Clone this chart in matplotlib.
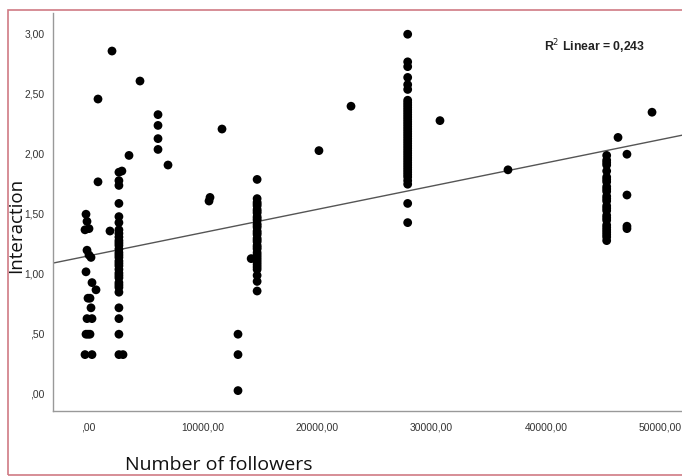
import numpy as np
import matplotlib.pyplot as plt
from matplotlib.ticker import FuncFormatter
from matplotlib.patches import Rectangle

# data -------------------------------------

# small accounts (near 0 followers)
followers_a = [-175, -87, 87, -262, -87, 87, 262, -175, 349, 699, 175, 0, 262,
               -87, 349, -175, 175, 0, -262, 349, 873, 873]
interaction_a = [1.49, 1.43, 1.37, 1.36, 1.19, 1.15, 1.13, 1.01, 0.92, 0.86, 0.79, 0.79, 0.71,
                 0.62, 0.62, 0.49, 0.49, 0.49, 0.32, 0.32, 2.45, 1.76]

# column around 2700 followers
followers_b = [2960, 2700, 2700, 2700, 2700, 2700, 2700, 2700, 2700, 2700, 2700, 2700,
               2700, 2700, 2700, 2700, 2700, 2700, 2700, 2700, 2700, 2700, 2700, 2700,
               2700, 2700, 2700, 3057, 1920, 2700, 2700, 2700, 2700, 2700]
interaction_b = [1.85, 1.84, 1.77, 1.73, 1.58, 1.47, 1.42, 1.36, 1.33, 1.30, 1.27, 1.23,
                 1.20, 1.17, 1.13, 1.10, 1.06, 1.03, 1.00, 0.96, 0.92, 0.88, 0.84, 0.71,
                 0.62, 0.49, 0.32, 0.32, 1.35, 1.25, 1.15, 1.08, 0.98, 0.90]

# scattered accounts
followers_c = [2096, 4541, 6114, 6114, 6114, 6114, 11703, 3581, 6987, 10570, 10655,
               20170, 22970, 30740, 36680, 46290, 47070, 47070, 47070, 47070, 49260]
interaction_c = [2.85, 2.60, 2.32, 2.23, 2.12, 2.03, 2.20, 1.98, 1.90, 1.60, 1.63,
                 2.02, 2.39, 2.27, 1.86, 2.13, 1.99, 1.65, 1.39, 1.37, 2.34]

# column around 15000 followers
followers_d = [14770] * 23 + [14250, 13100, 13100, 13100] + [14770] * 11
interaction_d = [1.78, 1.62, 1.59, 1.56, 1.53, 1.50, 1.47, 1.44, 1.41, 1.38, 1.35, 1.32,
                 1.29, 1.26, 1.23, 1.20, 1.17, 1.13, 1.09, 1.05, 0.98, 0.93, 0.85,
                 1.12, 0.49, 0.32, 0.02,
                 1.575, 1.515, 1.455, 1.395, 1.335, 1.275, 1.215, 1.15, 1.11, 1.07, 1.03]

# column around 28000 followers
followers_e = [27920] * 31 + [27920] * 12
interaction_e = [2.99, 2.76, 2.72, 2.63, 2.57, 2.53, 2.44, 2.40, 2.36, 2.32, 2.28,
                 2.24, 2.20, 2.16, 2.12, 2.08, 2.04, 2.00, 1.96, 1.92, 1.88, 1.84,
                 1.80, 1.74, 1.58, 1.42, 2.42, 2.26, 2.10, 1.94, 1.82,
                 2.38, 2.34, 2.30, 2.22, 2.18, 2.14, 2.06, 2.02, 1.98, 1.90, 1.86, 1.77]

# column around 45000 followers
followers_f = [45300] * 18 + [45300] * 9
interaction_f = [1.98, 1.94, 1.90, 1.85, 1.80, 1.76, 1.72, 1.68, 1.64, 1.60, 1.56, 1.52,
                 1.48, 1.44, 1.40, 1.36, 1.32, 1.27,
                 1.92, 1.78, 1.70, 1.62, 1.54, 1.46, 1.38, 1.34, 1.30]

fit_intercept = 1.142
fit_slope = 1.94e-5
r2_text = "R$^2$ Linear = 0,243"

# ------------------------------------------

followers = np.array(followers_a + followers_b + followers_c + followers_d + followers_e + followers_f)
interaction = np.array(interaction_a + interaction_b + interaction_c + interaction_d + interaction_e + interaction_f)


def comma_fmt(v, pos):
    s = "%.2f" % v
    s = s.replace(".", ",")
    if s.startswith("0,"):
        s = s[1:]
    return s


fig = plt.figure(figsize=(6.82, 4.76), dpi=100)
ax = fig.add_axes([53 / 682, 1 - 411 / 476, 1 - 53 / 682, (411 - 13) / 476])

xlim = (-3057, 51878)
ax.set_xlim(xlim)
ax.set_ylim(-0.15, 3.167)

ax.scatter(followers, interaction, s=40, c="black", edgecolors="none", zorder=3)

xs = np.array(xlim)
ax.plot(xs, fit_intercept + fit_slope * xs, color="#555555", lw=1.0, zorder=2)

ax.set_xticks([0, 10000, 20000, 30000, 40000, 50000])
ax.set_yticks([0, 0.5, 1.0, 1.5, 2.0, 2.5, 3.0])
ax.xaxis.set_major_formatter(FuncFormatter(comma_fmt))
ax.yaxis.set_major_formatter(FuncFormatter(comma_fmt))
ax.tick_params(length=0, labelsize=7.4, labelcolor="#333333")
ax.tick_params(axis="x", pad=8)
ax.tick_params(axis="y", pad=6)
for lab in ax.get_xticklabels() + ax.get_yticklabels():
    lab.set_family("Liberation Sans")

for side in ["top", "right"]:
    ax.spines[side].set_visible(False)
for side in ["left", "bottom"]:
    ax.spines[side].set_color("#999999")
    ax.spines[side].set_linewidth(1.0)

ax.text(595 / 682, 1 - 47 / 476, r2_text, transform=fig.transFigure, ha="center", va="center",
        fontsize=8.8, fontweight="bold", family="Liberation Sans", color="#222222")

fig.text(219 / 682, 1 - 465 / 476, "Number of followers", ha="center", va="center",
         fontsize=14, family="Open Sans", color="#111111")
fig.text(16 / 682, 1 - 225 / 476, "Interaction", ha="center", va="center",
         rotation=90, fontsize=13.5, family="Open Sans", color="#111111")

# reddish frame round the picture
fig.patches.append(Rectangle((8 / 682, 1 / 476), 1.0, 1 - 11 / 476, transform=fig.transFigure,
                             fill=False, edgecolor="#d07a84", lw=1.2))

fig.savefig("out.png", dpi=100)
